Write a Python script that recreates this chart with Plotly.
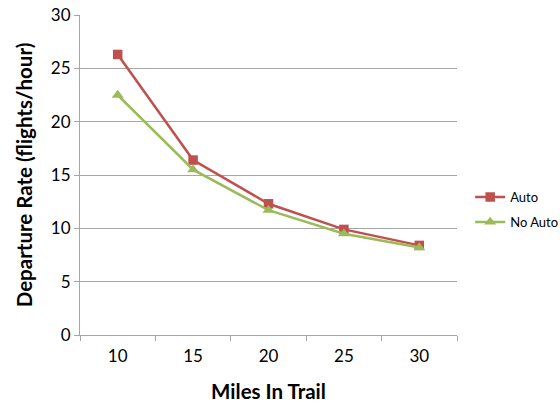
import plotly.graph_objects as go

miles = ["10", "15", "20", "25", "30"]
auto = [26.3, 16.4, 12.3, 9.9, 8.4]
no_auto = [22.5, 15.5, 11.7, 9.5, 8.2]

fig = go.Figure()
fig.add_trace(go.Scatter(x=miles, y=auto, name="Auto", mode="lines+markers",
                         legendgroup="a",
                         line=dict(color="#C0504D", width=2.5),
                         marker=dict(symbol="square", size=9.5, color="#C0504D")))
fig.add_trace(go.Scatter(x=miles, y=no_auto, name="No Auto", mode="lines+markers",
                         legendgroup="b",
                         line=dict(color="#9BBB59", width=2.5),
                         marker=dict(symbol="triangle-up", size=10.5, color="#9BBB59")))

fig.update_layout(
    width=560, height=403,
    margin=dict(l=80, r=103, t=15, b=68, autoexpand=False),
    paper_bgcolor="white", plot_bgcolor="white",
    font=dict(family="Lato, Open Sans, sans-serif", size=17, color="#000000"),
    showlegend=True,
    legend=dict(x=1.035, y=0.392, yanchor="middle", xanchor="left",
                font=dict(size=13), tracegroupgap=5, itemwidth=30,
                bgcolor="rgba(0,0,0,0)"),
)
fig.update_xaxes(
    type="category", range=[-0.5, 4.5], automargin=False,
    showline=True, linecolor="#A6A6A6", linewidth=1,
    ticks="outside", ticklen=5, tickcolor="#A6A6A6", tickson="boundaries",
    ticklabelstandoff=6, ticklabeloverflow="allow",
    showgrid=False,
    title=dict(text="<b>Miles In Trail</b>", font=dict(size=20.5), standoff=19),
)
fig.update_yaxes(
    range=[0, 30], dtick=5, automargin=False,
    showline=True, linecolor="#A6A6A6", linewidth=1,
    ticks="outside", ticklen=5, tickcolor="#A6A6A6",
    ticklabeloverflow="allow",
    showgrid=True, gridcolor="#A6A6A6", gridwidth=1,
    zeroline=False,
    title=dict(text="<b>Departure Rate (flights/hour)</b>", font=dict(size=20.5), standoff=12),
)

fig.write_html("out.html", config={"displayModeBar": False},
               post_script="document.body.style.margin='0';")
